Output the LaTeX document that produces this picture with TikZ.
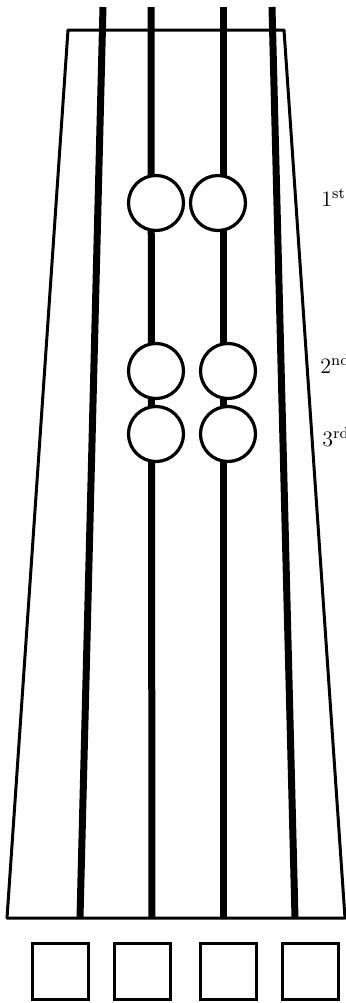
\documentclass[tikz,border=0pt]{standalone}
\usepackage{tikz}

\begin{document}
\begin{tikzpicture}[x=0.5pt, y=-0.5pt, every node/.style={font=\fontsize{11}{13}\selectfont},
	fretdot/.style={circle, draw, fill=white, line width=1.6pt, minimum size=27.5pt, inner sep=0pt},
	pegbox/.style={draw, line width=1.5pt, minimum width=28pt, minimum height=28pt, inner sep=0pt},
	wire/.style={line width=3.5pt},
	fretlabel/.style={anchor=base west, inner sep=0pt}]
	\useasboundingbox (0,0) rectangle (346,1003);
	\draw[line width=1.5pt, line join=round] (68,30) -- (284,30) -- (345,918) -- (7,918) -- cycle;
	\foreach \t/\b [count=\i] in {103/80,151/152,223/223,272/295} {
		\coordinate (top\i) at (\t,7);
		\coordinate (bot\i) at (\b,918);
		\draw[wire] (top\i) -- (bot\i);
	}
	\node[fretdot] (dot1a) at (156,203) {};
	\node[fretdot] (dot1b) at (218,203) {};
	\node[fretdot] (dot2a) at (156,371) {};
	\node[fretdot] (dot2b) at (228,371) {};
	\node[fretdot] (dot3a) at (156,434) {};
	\node[fretdot] (dot3b) at (228,434) {};
	\node[fretlabel] (fret1) at (321,206) {1\textsuperscript{st}};
	\node[fretlabel] (fret2) at (320,373) {2\textsuperscript{nd}};
	\node[fretlabel] (fret3) at (322,446) {3\textsuperscript{rd}};
	\foreach \x [count=\i] in {60.5,142,228.5,310}
		\node[pegbox] (peg\i) at (\x,971) {};
\end{tikzpicture}
\end{document}
